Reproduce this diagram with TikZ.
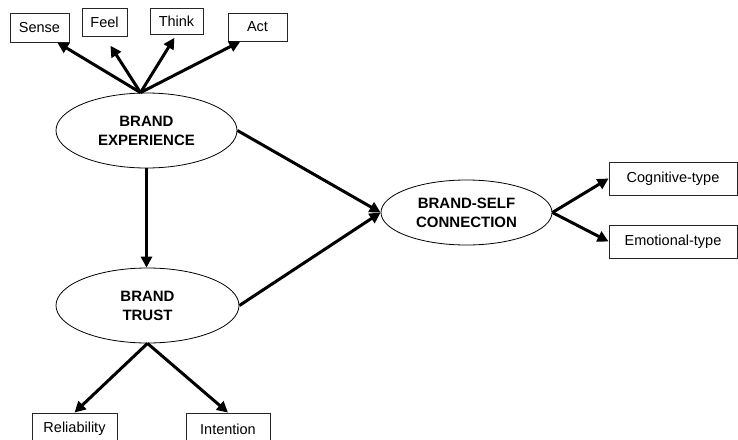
\documentclass[tikz,border=0pt]{standalone}
\usepackage{fontspec}
\setmainfont{Liberation Sans}
\usetikzlibrary{arrows.meta,shapes.geometric}

\tikzset{
	item/.style={draw=black!85, line width=0.9pt, inner sep=0pt, font=\fontsize{14.5}{17}\selectfont},
	construct/.style={ellipse, draw, line width=0.8pt, inner sep=0pt, align=center, font=\fontsize{15}{19}\selectfont\bfseries},
	link/.style={line width=3pt, -{Triangle[length=11pt,width=11pt]}}
}

\begin{document}
\begin{tikzpicture}[x=1pt,y=-1pt]
			%%%%% START %%%%%
			
			\useasboundingbox (0,0) rectangle (738,439);
			
			\node[construct, minimum width=181pt, minimum height=75pt] (exp) at (146.5,130.5) {BRAND\\EXPERIENCE};
			\node[construct, minimum width=183pt, minimum height=75pt] (trust) at (147.5,305.5) {BRAND\\TRUST};
			\node[construct, minimum width=171pt, minimum height=65pt] (self) at (466.5,212.5) {BRAND-SELF\\CONNECTION};
			
			\node[item, minimum width=59pt, minimum height=29pt] (sense) at (39.5,27.5) {Sense};
			\node[item, minimum width=45pt, minimum height=28pt] (feel) at (104.5,22) {Feel};
			\node[item, minimum width=53pt, minimum height=26pt] (think) at (176.5,21) {Think};
			\node[item, minimum width=59pt, minimum height=28pt] (act) at (257.5,27) {Act};
			
			\node[item, minimum width=128pt, minimum height=33pt] (cog) at (673,178.5) {Cognitive-type};
			\node[item, minimum width=128pt, minimum height=33pt] (emo) at (673,241.5) {Emotional-type};
			
			\node[item, minimum width=85pt, minimum height=32pt] (rel) at (74.5,429) {Reliability};
			\node[item, minimum width=84pt, minimum height=32pt] (int) at (228,429) {Intention};
			
			\coordinate (hub) at ([xshift=-6pt]exp.north);
			\draw[link] (hub) -- (sense.-40);
			\draw[link, shorten >=11pt] (hub) -- (feel.south);
			\draw[link, shorten >=4pt] (hub) -- (think.south);
			\draw[link] (hub) -- (act.-140);
			
			\draw[link] (exp.south) -- (exp.south |- trust.north);
			\draw[link] (exp.east) -- (self.west);
			\draw[link] (trust.east) -- (self.west);
			
			\draw[link] (self.east) -- (cog.west);
			\draw[link] (self.east) -- (emo.west);
			
			\draw[link] (trust.south) -- (rel.north);
			\draw[link] (trust.south) -- (int.north);
			
			%%%%% END %%%%%
\end{tikzpicture}
\end{document}
